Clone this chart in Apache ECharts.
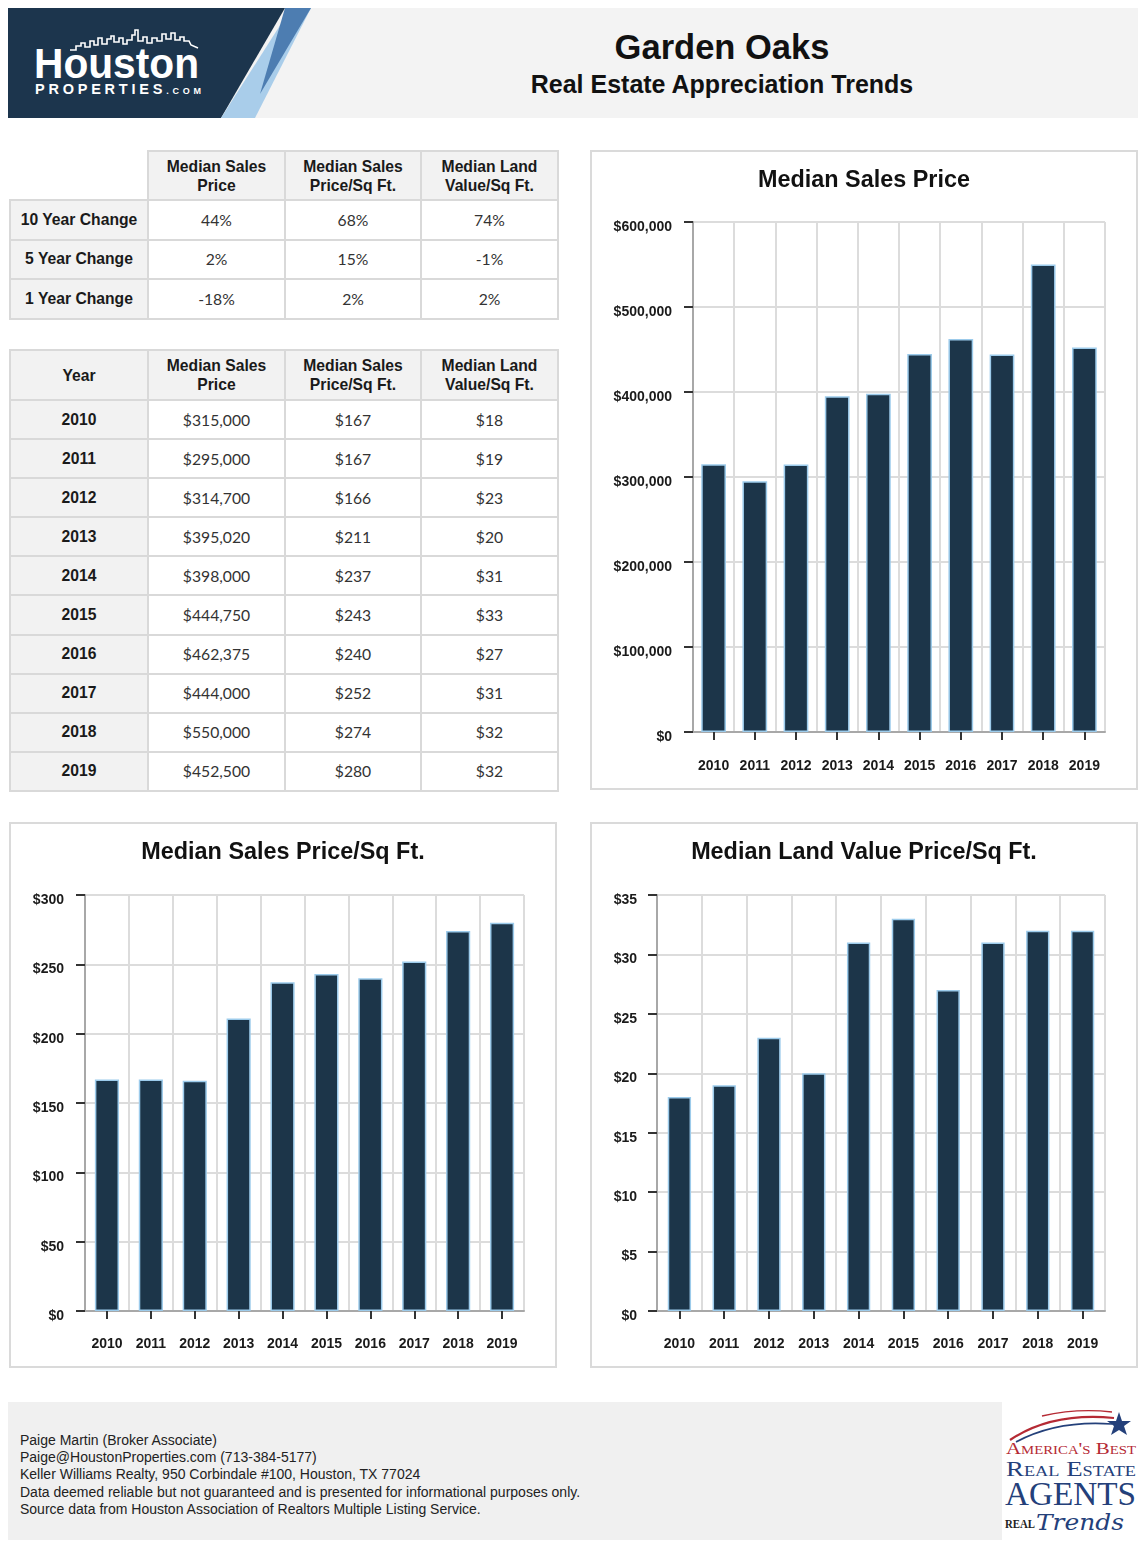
<!DOCTYPE html>
<html><head><meta charset="utf-8">
<script src="https://cdn.jsdelivr.net/npm/echarts@6/dist/echarts.min.js"></script>
<style>
html,body{margin:0;padding:0}
body{width:1148px;height:1550px;background:#fff;position:relative;overflow:hidden;font-family:"Liberation Sans",Arial,sans-serif;color:#111}
.abs{position:absolute}
table{border-collapse:collapse;table-layout:fixed;position:absolute}
td{border:2px solid #d9d9d9;text-align:center;padding:0;font-size:15.7px;}
td.h{background:#f2f2f2;font-weight:bold;line-height:19px;color:#1a1a1a}
td.l{background:#f2f2f2;font-weight:bold;color:#1a1a1a}
td.v{font-family:Lato,"Liberation Sans",sans-serif;color:#333;font-size:15.7px}
td.blank{border-top:none;border-left:none;background:#fff}
.panel{position:absolute;box-sizing:border-box;border:2px solid #dadada;background:#fff}
.chart{position:absolute}
.foot{position:absolute;left:20px;top:1432px;font-size:14px;line-height:17.2px;color:#222}
</style></head><body>

<div class="abs" style="left:8px;top:8px;width:1130px;height:110px;background:#f3f3f3"></div>
<svg class="abs" style="left:8px;top:8px" width="320" height="110" viewBox="0 0 320 110">
  <path d="M0,0 L277,0 L213,110 L0,110 Z" fill="#1c354d"/>
  <path d="M283,0 L303,0 L247,110 L213,110 Z" fill="#a9cdea"/>
  <path d="M277,0 L303,0 L252,86 Z" fill="#4d7db1"/>
  <polyline fill="none" stroke="#fff" stroke-width="1.6" points="62,42 68,42 68,38 73,38 73,35 77,35 77,39 82,39 82,33 86,33 86,37 90,37 90,30 94,30 94,36 99,36 99,31 103,31 103,28 106,28 106,34 111,34 111,30 115,30 115,36 119,36 119,32 124,32 124,27 127,27 127,22 130,22 130,33 135,33 135,29 139,29 139,35 144,35 144,30 149,30 149,33 154,33 154,26 158,26 158,31 163,31 163,25 167,25 167,32 172,32 172,29 176,29 176,33 181,33 183,37 190,40"/>
  <text x="26" y="70" fill="#fff" font-family="Liberation Sans, Arial, sans-serif" font-weight="bold" font-size="43" textLength="165" lengthAdjust="spacingAndGlyphs">Houston</text>
  <text x="27" y="86" fill="#fff" font-family="Liberation Sans, Arial, sans-serif" font-weight="bold" font-size="14.5" textLength="166" lengthAdjust="spacing">PROPERTIES<tspan font-size="9">.COM</tspan></text>
</svg>
<div class="abs" style="left:330px;top:26px;width:784px;text-align:center;font-weight:bold;font-size:34.5px;line-height:42px;color:#111">Garden Oaks</div>
<div class="abs" style="left:330px;top:69px;width:784px;text-align:center;font-weight:bold;font-size:25px;line-height:30px;color:#111">Real Estate Appreciation Trends</div>

<div id="t1"></div>
<div id="t2"></div>

<div class="panel" style="left:590px;top:150px;width:548px;height:640px"></div>
<div class="chart" id="c1" style="left:590px;top:150px;width:548px;height:640px"></div>
<div class="panel" style="left:9px;top:822px;width:548px;height:546px"></div>
<div class="chart" id="c2" style="left:9px;top:822px;width:548px;height:546px"></div>
<div class="panel" style="left:590px;top:822px;width:548px;height:546px"></div>
<div class="chart" id="c3" style="left:590px;top:822px;width:548px;height:546px"></div>

<div class="abs" style="left:8px;top:1402px;width:1130px;height:138px;background:#f0f0f0"></div>
<div class="foot" id="foot"></div>
<svg class="abs" style="left:1002px;top:1402px;background:#fff" width="136" height="138" viewBox="0 0 136 138">
  <path d="M8,38 Q50,10 112,16" fill="none" stroke="#b52a34" stroke-width="2.2"/>
  <path d="M14,40 Q55,18 110,22" fill="none" stroke="#24407a" stroke-width="1.6"/>
  <path d="M40,14 Q75,6 110,10" fill="none" stroke="#b52a34" stroke-width="1.4"/>
  <polygon points="117,10 120,19 129,19 122,24 125,33 117,28 109,33 112,24 105,19 114,19" fill="#24407a"/>
  <text x="4" y="52" fill="#b52a34" font-family="Liberation Serif, serif" font-size="17" textLength="130" lengthAdjust="spacingAndGlyphs" style="font-variant:small-caps">America's Best</text>
  <text x="4" y="74" fill="#24407a" font-family="Liberation Serif, serif" font-size="22" textLength="130" lengthAdjust="spacingAndGlyphs" style="font-variant:small-caps">Real Estate</text>
  <text x="3" y="103" fill="#24407a" font-family="Liberation Serif, serif" font-size="33" textLength="131" lengthAdjust="spacingAndGlyphs">AGENTS</text>
  <text x="3" y="126" fill="#222" font-family="Liberation Serif, serif" font-size="13" font-weight="bold" textLength="30" lengthAdjust="spacingAndGlyphs">REAL</text>
  <text x="34" y="128" fill="#24407a" font-family="DejaVu Serif, serif" font-style="italic" font-size="22" textLength="88" lengthAdjust="spacingAndGlyphs">Trends</text>
</svg>

<script>
// ---------- data ----------
const years = ['2010','2011','2012','2013','2014','2015','2016','2017','2018','2019'];
const medianSalesPrice = [315000, 295000, 314700, 395020, 398000, 444750, 462375, 444000, 550000, 452500];
const medianPricePerSqFt = [167, 167, 166, 211, 237, 243, 240, 252, 274, 280];
const medianLandPerSqFt = [18, 19, 23, 20, 31, 33, 27, 31, 32, 32];
const tableHeaders = ['Median Sales<br>Price', 'Median Sales<br>Price/Sq Ft.', 'Median Land<br>Value/Sq Ft.'];
const changeLabels = ['10 Year Change', '5 Year Change', '1 Year Change'];
const changePrice = ['44%', '2%', '-18%'];
const changePriceSqFt = ['68%', '15%', '2%'];
const changeLand = ['74%', '-1%', '2%'];
const footerLines = [
  'Paige Martin (Broker Associate)',
  'Paige@HoustonProperties.com (713-384-5177)',
  'Keller Williams Realty, 950 Corbindale #100, Houston, TX 77024',
  'Data deemed reliable but not guaranteed and is presented for informational purposes only.',
  'Source data from Houston Association of Realtors Multiple Listing Service.'
];

// ---------- tables ----------
const colW = [138, 137, 136, 137];
function colgroup(){ return '<colgroup>' + colW.map(w => '<col style="width:' + w + 'px">').join('') + '</colgroup>'; }
function money(v){ return '$' + v.toLocaleString('en-US'); }

let h1 = '<table style="left:9px;top:150px;width:548px">' + colgroup();
h1 += '<tr style="height:49px"><td class="blank"></td>' + tableHeaders.map(h => '<td class="h">' + h + '</td>').join('') + '</tr>';
changeLabels.forEach((lab, i) => {
  h1 += '<tr style="height:39.5px"><td class="l">' + lab + '</td><td class="v">' + changePrice[i] + '</td><td class="v">' + changePriceSqFt[i] + '</td><td class="v">' + changeLand[i] + '</td></tr>';
});
h1 += '</table>';
document.getElementById('t1').innerHTML = h1;

let h2 = '<table style="left:9px;top:349px;width:548px">' + colgroup();
h2 += '<tr style="height:50px"><td class="h">Year</td>' + tableHeaders.map(h => '<td class="h">' + h + '</td>').join('') + '</tr>';
years.forEach((y, i) => {
  h2 += '<tr style="height:39.1px"><td class="l">' + y + '</td><td class="v">' + money(medianSalesPrice[i]) + '</td><td class="v">$' + medianPricePerSqFt[i] + '</td><td class="v">$' + medianLandPerSqFt[i] + '</td></tr>';
});
h2 += '</table>';
document.getElementById('t2').innerHTML = h2;

document.getElementById('foot').innerHTML = footerLines.join('<br>');

// ---------- charts ----------
const FONT = '"Liberation Sans", Arial, sans-serif';
function makeChart(id, cfg){
  const c = echarts.init(document.getElementById(id), null, {renderer:'canvas'});
  c.setOption({
    animation: false,
    title: { text: cfg.title, left: 'center', top: 19, padding: 0,
      textStyle: { fontFamily: FONT, fontSize: 23.4, fontWeight: 'bold', color: '#111' } },
    grid: { left: cfg.left, top: cfg.top, width: cfg.width, height: cfg.height, containLabel: false },
    xAxis: {
      type: 'category', data: years, boundaryGap: true,
      axisLine: { show: true, lineStyle: { color: '#a8a8a8', width: 2 } },
      axisTick: { show: true, alignWithLabel: true, length: 8, lineStyle: { color: '#333', width: 2 } },
      axisLabel: { margin: cfg.xMargin, fontFamily: FONT, fontSize: 14, fontWeight: 'bold', color: '#1a1a1a', interval: 0 },
      splitLine: { show: true, lineStyle: { color: '#dcdcdc', width: 2 } }
    },
    yAxis: {
      type: 'value', min: 0, max: cfg.max, interval: cfg.interval,
      axisLine: { show: true, lineStyle: { color: '#a8a8a8', width: 2 } },
      axisTick: { show: true, length: 9, lineStyle: { color: '#333', width: 2 } },
      axisLabel: { margin: cfg.labelMargin, fontFamily: FONT, fontSize: 14, fontWeight: 'bold', color: '#1a1a1a',
        verticalAlign: 'top', lineHeight: 14, padding: [-2, 0, 0, 0], formatter: v => '$' + v.toLocaleString('en-US') },
      splitLine: { show: true, lineStyle: { color: '#dcdcdc', width: 2 } }
    },
    series: [{ type: 'bar', data: cfg.data, barWidth: cfg.barWidth,
      itemStyle: { color: '#1c3549', borderColor: '#9ccbeb', borderWidth: 1.5 } }]
  });
}
makeChart('c1', { title: 'Median Sales Price', data: medianSalesPrice, max: 600000, interval: 100000,
  left: 103, top: 72, width: 412, height: 510, labelMargin: 21, xMargin: 27, barWidth: '60%' });
makeChart('c2', { title: 'Median Sales Price/Sq Ft.', data: medianPricePerSqFt, max: 300, interval: 50,
  left: 76, top: 73, width: 439, height: 416, labelMargin: 21, xMargin: 26, barWidth: '55%' });
makeChart('c3', { title: 'Median Land Value Price/Sq Ft.', data: medianLandPerSqFt, max: 35, interval: 5,
  left: 67, top: 73, width: 448, height: 416, labelMargin: 20, xMargin: 26, barWidth: '52%' });
</script>
</body></html>
